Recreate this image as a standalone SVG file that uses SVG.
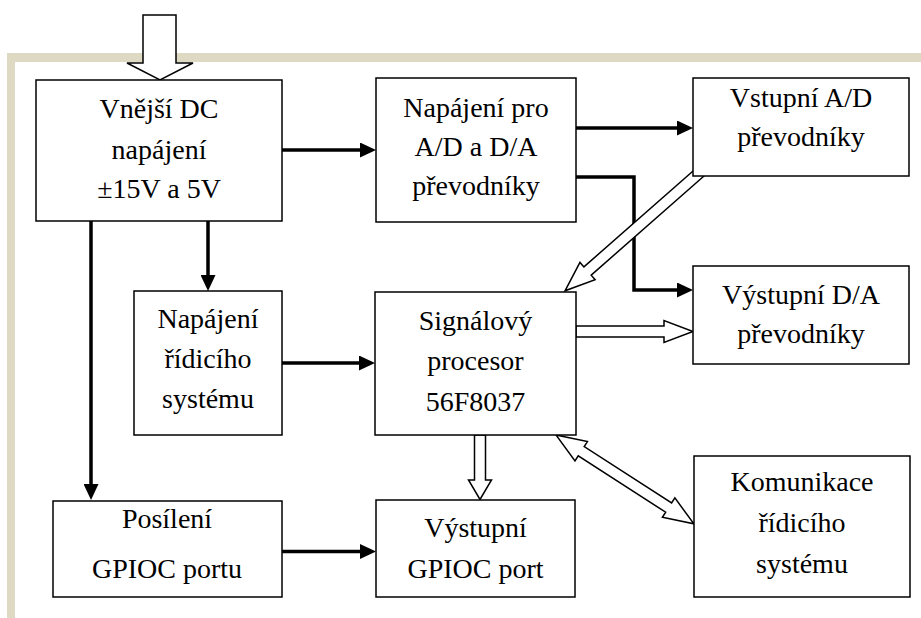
<svg xmlns="http://www.w3.org/2000/svg" width="921" height="618" viewBox="0 0 921 618">
<style>
  .box { fill: #ffffff; stroke: #000000; stroke-width: 1.5; }
  .t { font-family: "Liberation Serif", "Times New Roman", serif; font-size: 28px; fill: #000000; text-anchor: middle; }
  .wire { fill: none; stroke: #000000; stroke-width: 3.5; marker-end: url(#ah); }
  .hollow { fill: #ffffff; stroke: #000000; stroke-width: 1.5; stroke-linejoin: miter; }
  .frame { fill: #ddd9c3; }
</style>
<defs>
  <marker id="ah" markerUnits="userSpaceOnUse" markerWidth="16" markerHeight="15" refX="8" refY="7.5" orient="auto">
    <path d="M0,0 L16,7.5 L0,15 z" fill="#000000"/>
  </marker>
</defs>
<rect class="frame" x="7" y="53" width="914" height="9"/>
<rect class="frame" x="7" y="53" width="8" height="565"/>
<g id="connectors">
  <path class="wire" d="M282,150 H368"/>
  <path class="wire" d="M576,128 H685"/>
  <path class="wire" d="M576,177 H634 V290 H685"/>
  <path class="wire" d="M91,221 V492"/>
  <path class="wire" d="M208,221 V283"/>
  <path class="wire" d="M282,363 H367"/>
  <path class="wire" d="M282,551.5 H368"/>
  <polygon class="hollow" points="143,15 176,15 176,63 193,63 160,80 127,63 143,63"/>
  <polygon class="hollow" transform="translate(705.5,167.4) rotate(138.7)" points="0,-5.5 157,-5.5 157,-11.5 187,0 157,11.5 157,5.5 0,5.5"/>
  <polygon class="hollow" points="576,326 664,326 664,320.5 693,331.5 664,342.5 664,337 576,337"/>
  <polygon class="hollow" points="474.5,435 485.5,435 485.5,480 491.5,480 480,499.5 468.5,480 474.5,480"/>
  <polygon class="hollow" transform="translate(556,435) rotate(32.8)" points="0,0 30,-11.5 30,-5.5 134,-5.5 134,-11.5 164,0 134,11.5 134,5.5 30,5.5 30,11.5"/>
</g>
<g id="n-vnejsi">
  <rect class="box" x="36" y="80" width="246" height="141"/>
  <text class="t" x="159" y="118">Vnější DC</text>
  <text class="t" x="159" y="159">napájení</text>
  <text class="t" x="159" y="198">±15V a 5V</text>
</g>
<g id="n-napajeni-ad">
  <rect class="box" x="376" y="78" width="200" height="144"/>
  <text class="t" x="476" y="117">Napájení pro</text>
  <text class="t" x="476" y="156">A/D a D/A</text>
  <text class="t" x="476" y="195">převodníky</text>
</g>
<g id="n-vstupni">
  <rect class="box" x="693" y="78" width="216" height="98"/>
  <text class="t" x="801" y="107">Vstupní A/D</text>
  <text class="t" x="801" y="146">převodníky</text>
</g>
<g id="n-vystupni-da">
  <rect class="box" x="693" y="266" width="216" height="98"/>
  <text class="t" x="801" y="304">Výstupní D/A</text>
  <text class="t" x="801" y="343">převodníky</text>
</g>
<g id="n-napajeni-ridici">
  <rect class="box" x="134" y="291" width="148" height="144"/>
  <text class="t" x="208" y="328">Napájení</text>
  <text class="t" x="208" y="368">řídicího</text>
  <text class="t" x="208" y="408">systému</text>
</g>
<g id="n-signalovy">
  <rect class="box" x="375" y="292" width="201" height="143"/>
  <text class="t" x="475.5" y="330">Signálový</text>
  <text class="t" x="475.5" y="370">procesor</text>
  <text class="t" x="475.5" y="411">56F8037</text>
</g>
<g id="n-posileni">
  <rect class="box" x="53" y="501" width="229" height="96"/>
  <text class="t" x="167" y="528">Posílení</text>
  <text class="t" x="167" y="578">GPIOC portu</text>
</g>
<g id="n-vystupni-gpioc">
  <rect class="box" x="376" y="500" width="199" height="97"/>
  <text class="t" x="475.5" y="537">Výstupní</text>
  <text class="t" x="475.5" y="578">GPIOC port</text>
</g>
<g id="n-komunikace">
  <rect class="box" x="694" y="456" width="216" height="141"/>
  <text class="t" x="802" y="491">Komunikace</text>
  <text class="t" x="802" y="532">řídicího</text>
  <text class="t" x="802" y="573">systému</text>
</g>
</svg>
